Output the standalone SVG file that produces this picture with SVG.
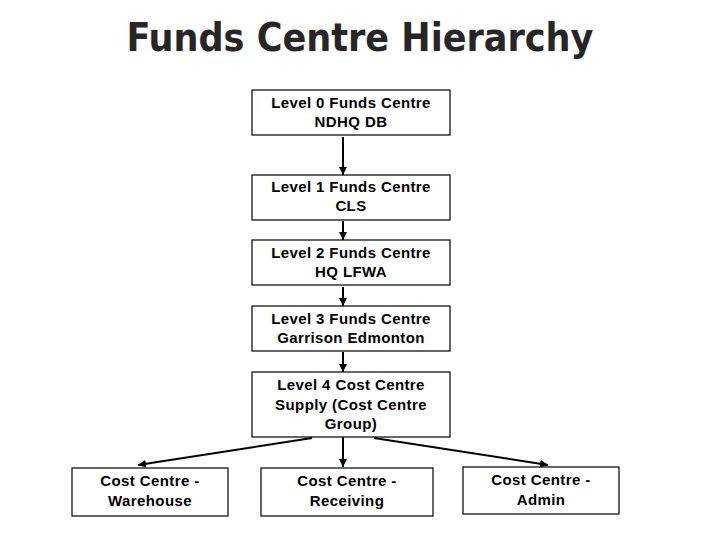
<svg xmlns="http://www.w3.org/2000/svg" width="720" height="540" viewBox="0 0 720 540">
<defs>
<marker id="ah" viewBox="0 0 10 10" refX="10" refY="5" markerWidth="8" markerHeight="8" markerUnits="userSpaceOnUse" orient="auto">
<path d="M0,0 L10,5 L0,10 z" fill="#000"/>
</marker>
</defs>
<style>
.box{fill:#fff;stroke:#000;stroke-width:1.2}
.t{font-family:"Liberation Sans",Arial,sans-serif;font-size:15px;font-weight:bold;fill:#000;text-anchor:middle;letter-spacing:0.4px}
.title{font-family:"DejaVu Sans Condensed","DejaVu Sans",Verdana,sans-serif;font-stretch:condensed;font-size:39px;font-weight:bold;fill:#262626;text-anchor:middle}
.c{stroke:#000;stroke-width:2;fill:none;marker-end:url(#ah)}
</style>
<rect width="720" height="540" fill="#fff"/>
<text class="title" x="360" y="51">Funds Centre Hierarchy</text>
<g id="connectors">
<line class="c" x1="343" y1="137" x2="343" y2="175"/>
<line class="c" x1="343" y1="221" x2="343" y2="240"/>
<line class="c" x1="343" y1="287" x2="343" y2="306"/>
<line class="c" x1="343" y1="352" x2="343" y2="372"/>
<line class="c" x1="343" y1="437" x2="343" y2="467"/>
<line class="c" x1="312" y1="438" x2="138" y2="465"/>
<line class="c" x1="374" y1="438" x2="548" y2="465"/>
</g>
<g id="l0">
<rect class="box" x="252" y="90" width="198" height="45"/>
<text class="t" x="351" y="108">Level 0 Funds Centre</text>
<text class="t" x="351" y="127">NDHQ DB</text>
</g>
<g id="l1">
<rect class="box" x="252" y="175" width="198" height="45"/>
<text class="t" x="351" y="192">Level 1 Funds Centre</text>
<text class="t" x="351" y="211">CLS</text>
</g>
<g id="l2">
<rect class="box" x="252" y="240" width="198" height="45"/>
<text class="t" x="351" y="258">Level 2 Funds Centre</text>
<text class="t" x="351" y="277">HQ LFWA</text>
</g>
<g id="l3">
<rect class="box" x="252" y="306" width="198" height="45"/>
<text class="t" x="351" y="324">Level 3 Funds Centre</text>
<text class="t" x="351" y="343">Garrison Edmonton</text>
</g>
<g id="l4">
<rect class="box" x="252" y="372" width="198" height="65"/>
<text class="t" x="351" y="390">Level 4 Cost Centre</text>
<text class="t" x="351" y="410">Supply (Cost Centre</text>
<text class="t" x="351" y="429">Group)</text>
</g>
<g id="warehouse">
<rect class="box" x="72" y="468" width="156" height="48"/>
<text class="t" x="150" y="486">Cost Centre -</text>
<text class="t" x="150" y="506">Warehouse</text>
</g>
<g id="receiving">
<rect class="box" x="261" y="468" width="172" height="48"/>
<text class="t" x="347" y="486">Cost Centre -</text>
<text class="t" x="347" y="506">Receiving</text>
</g>
<g id="admin">
<rect class="box" x="463" y="467" width="156" height="47"/>
<text class="t" x="541" y="485">Cost Centre -</text>
<text class="t" x="541" y="505">Admin</text>
</g>
</svg>
